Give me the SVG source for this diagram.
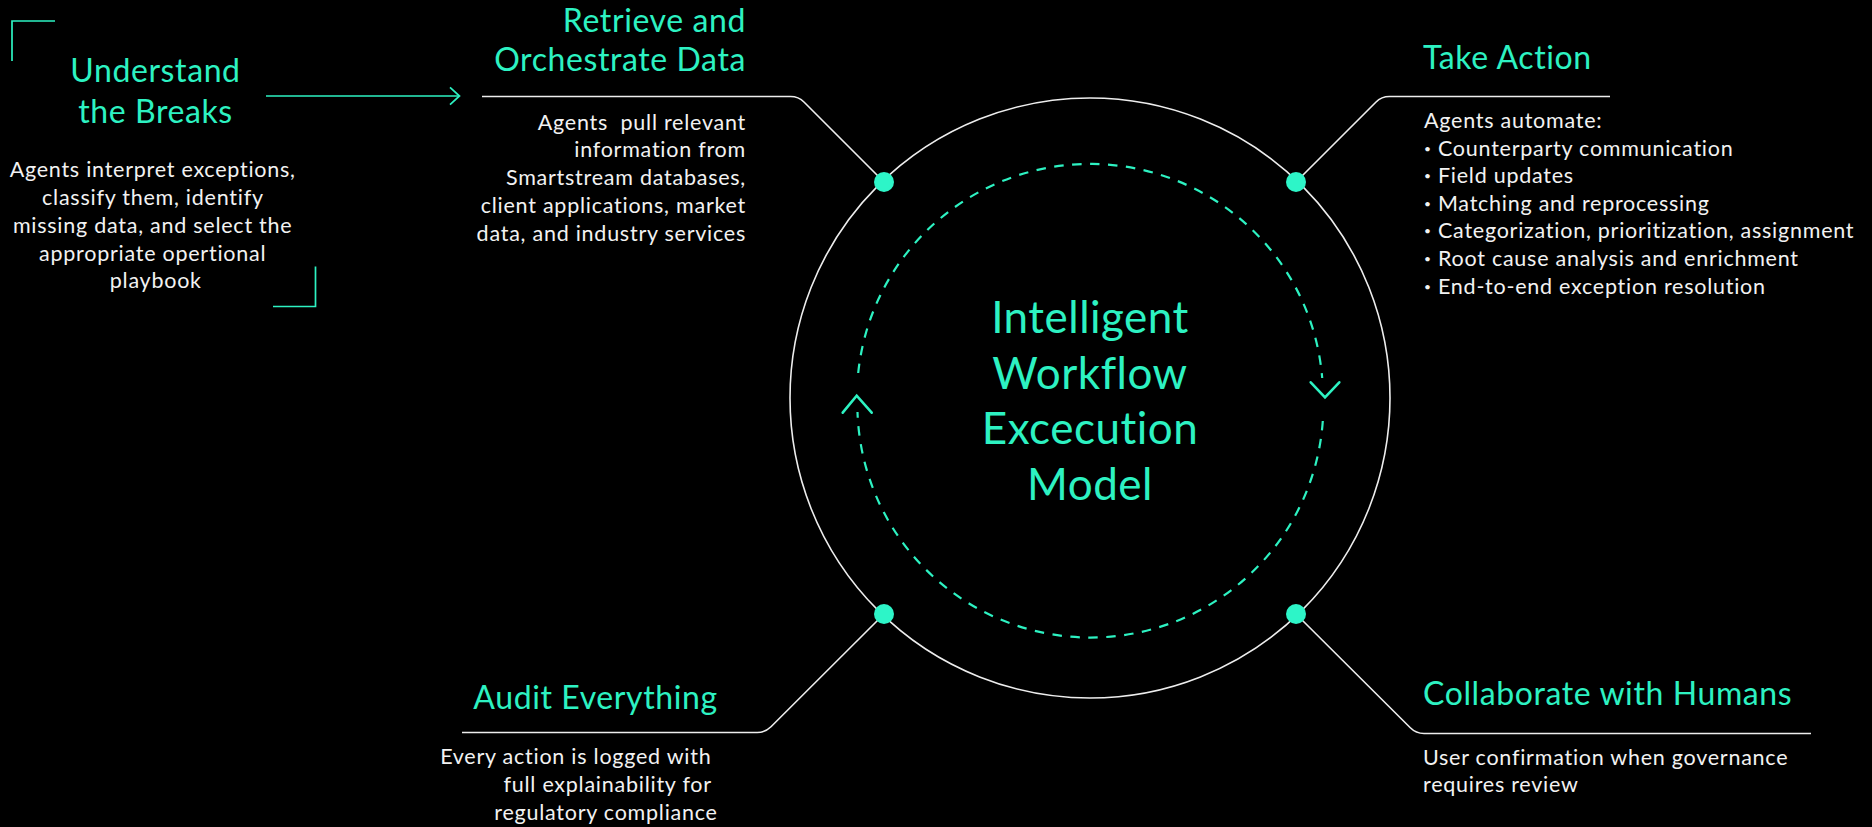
<svg xmlns="http://www.w3.org/2000/svg" width="1872" height="827" viewBox="0 0 1872 827">
<style>
.bg{fill:#000}
.title{font-family:Lato,"Liberation Sans",sans-serif;font-size:32px;fill:#2DF2C2;letter-spacing:0.6px}
.body{font-family:Lato,"Liberation Sans",sans-serif;font-size:21.5px;fill:#F2F2F2;letter-spacing:0.75px}
.center{font-family:Lato,"Liberation Sans",sans-serif;font-size:44px;fill:#2DF2C2;text-anchor:middle;letter-spacing:0.5px}
.wline{fill:none;stroke:#EDEDED;stroke-width:1.6}
.gline{fill:none;stroke:#2DF2C2;stroke-width:1.7}
.dash{fill:none;stroke:#2DF2C2;stroke-width:2.2;stroke-dasharray:9.5 8.5}
.chev{fill:none;stroke:#2DF2C2;stroke-width:2.6;stroke-linecap:round;stroke-linejoin:miter}
.dot{fill:#2DF5C8}
.bul{font-size:12px}
</style>
<rect class="bg" x="0" y="0" width="1872" height="827"/>

<g id="center-model">
  <circle class="wline" cx="1090" cy="398" r="300"/>
  <path class="dash" d="M 858.2 373 A 233 233 0 0 1 1322.2 378"/>
  <path class="dash" d="M 1322.8 421 A 233 233 0 0 1 857.5 412"/>
  <path class="chev" d="M 842.7 412.7 L 856.7 395.7 L 871.7 412.7"/>
  <path class="chev" d="M 1310.7 382.3 L 1325 397.3 L 1339.3 382.3"/>
  <text class="center" x="1090" y="333">Intelligent</text>
  <text class="center" x="1090" y="389">Workflow</text>
  <text class="center" x="1090" y="444">Excecution</text>
  <text class="center" x="1090" y="500">Model</text>
</g>

<g id="connectors">
  <path class="wline" d="M 482 96.5 H 790.5 Q 798.5 96.5 804.2 102.2 L 884 182"/>
  <path class="wline" d="M 1610 96.5 H 1389.5 Q 1381.5 96.5 1375.8 102.2 L 1296 182"/>
  <path class="wline" d="M 462 732.5 H 757.3 Q 765.3 732.5 771 726.8 L 884 614"/>
  <path class="wline" d="M 1811 733.5 H 1424 Q 1416 733.5 1410.3 727.8 L 1296 614"/>
  <path class="gline" d="M 266 96 H 459"/>
  <path class="gline" d="M 450 87.3 L 459.5 96 L 450 104.7"/>
</g>

<g id="dots">
  <circle class="dot" cx="884" cy="182" r="10"/>
  <circle class="dot" cx="1296" cy="182" r="10"/>
  <circle class="dot" cx="884" cy="614" r="10"/>
  <circle class="dot" cx="1296" cy="614" r="10"/>
</g>

<g id="understand-the-breaks">
  <path class="gline" d="M 55 21 H 12 V 61"/>
  <path class="gline" d="M 273 306.5 H 315.5 V 266.5"/>
  <text class="title" x="155.5" y="82.3" text-anchor="middle">Understand</text>
  <text class="title" x="155.5" y="122.7" text-anchor="middle">the Breaks</text>
  <text class="body" text-anchor="middle">
    <tspan x="155.8" y="177.3">Agents interpret exceptions,</tspan>
    <tspan x="155.8" y="205">classify them, identify</tspan>
    <tspan x="155.8" y="233">missing data, and select the</tspan>
    <tspan x="155.8" y="260.8">appropriate opertional</tspan>
    <tspan x="155.8" y="287.5">playbook</tspan>
  </text>
</g>

<g id="retrieve-and-orchestrate-data">
  <text class="title" x="746" y="32.3" text-anchor="end">Retrieve and</text>
  <text class="title" x="746" y="70.7" text-anchor="end">Orchestrate Data</text>
  <text class="body" text-anchor="end" xml:space="preserve"><tspan x="746" y="130">Agents  pull relevant</tspan><tspan x="746" y="157">information from</tspan><tspan x="746" y="185">Smartstream databases,</tspan><tspan x="746" y="213">client applications, market</tspan><tspan x="746" y="240.7">data, and industry services</tspan></text>
</g>

<g id="take-action">
  <text class="title" x="1423" y="69">Take Action</text>
  <text class="body">
    <tspan x="1424" y="128">Agents automate:</tspan>
    <tspan x="1424" y="155.5"><tspan class="bul" dy="-3">•</tspan><tspan dy="3"> Counterparty communication</tspan></tspan>
    <tspan x="1424" y="183"><tspan class="bul" dy="-3">•</tspan><tspan dy="3"> Field updates</tspan></tspan>
    <tspan x="1424" y="210.7"><tspan class="bul" dy="-3">•</tspan><tspan dy="3"> Matching and reprocessing</tspan></tspan>
    <tspan x="1424" y="238.3"><tspan class="bul" dy="-3">•</tspan><tspan dy="3"> Categorization, prioritization, assignment</tspan></tspan>
    <tspan x="1424" y="266.3"><tspan class="bul" dy="-3">•</tspan><tspan dy="3"> Root cause analysis and enrichment</tspan></tspan>
    <tspan x="1424" y="294"><tspan class="bul" dy="-3">•</tspan><tspan dy="3"> End-to-end exception resolution</tspan></tspan>
  </text>
</g>

<g id="audit-everything">
  <text class="title" x="717.7" y="709" text-anchor="end">Audit Everything</text>
  <text class="body" text-anchor="end">
    <tspan x="717.7" y="764">Every action is logged with</tspan>
    <tspan x="717.7" y="792.3">full explainability for</tspan>
    <tspan x="717.7" y="820">regulatory compliance</tspan>
  </text>
</g>

<g id="collaborate-with-humans">
  <text class="title" x="1423" y="705">Collaborate with Humans</text>
  <text class="body">
    <tspan x="1423" y="765">User confirmation when governance</tspan>
    <tspan x="1423" y="792">requires review</tspan>
  </text>
</g>
</svg>
